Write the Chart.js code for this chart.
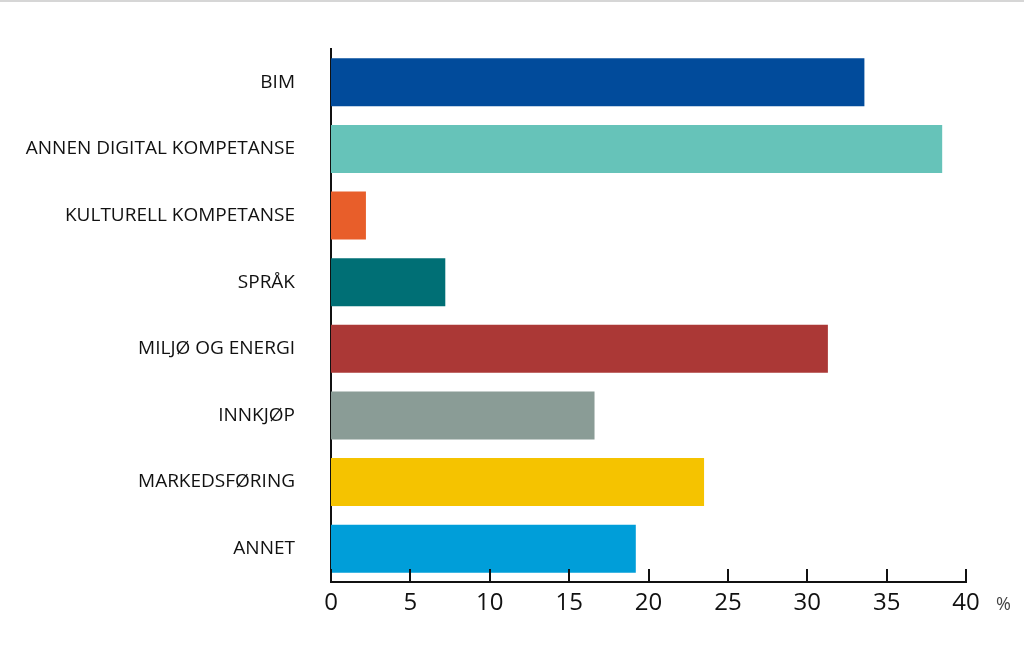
<!DOCTYPE html>
<html lang="no">
<head>
<meta charset="UTF-8">
<title>Kompetanse</title>
<style>
  html, body { margin: 0; padding: 0; background: #fff; }
  #wrap { width: 1024px; height: 645px; position: relative; }
</style>
</head>
<body>
<div id="wrap"><canvas id="chart" width="1024" height="645"></canvas></div>
<script src="https://cdn.jsdelivr.net/npm/chart.js@4/dist/chart.umd.min.js"></script>
<script>
// data
const categories = ["BIM", "ANNEN DIGITAL KOMPETANSE", "KULTURELL KOMPETANSE", "SPRÅK",
                    "MILJØ OG ENERGI", "INNKJØP", "MARKEDSFØRING", "ANNET"];
const values = [33.6, 38.5, 2.2, 7.2, 31.3, 16.6, 23.5, 19.2];
const barColors = ["#014b9b", "#66c3b9", "#e85e2a", "#006f75", "#ab3836", "#8a9c96", "#f5c300", "#009ed9"];
const unitLabel = "%";

const FONT = "'Open Sans', 'Noto Sans', sans-serif";

// top rule, upward tick marks and the % sign
const extras = {
  id: "extras",
  beforeDraw(chart) {
    const ctx = chart.ctx;
    ctx.save();
    ctx.fillStyle = "#d6d6d6";
    ctx.fillRect(0, 0, chart.width, 2);
    ctx.restore();
  },
  afterDraw(chart) {
    const ctx = chart.ctx;
    const x = chart.scales.x;
    const bottom = chart.chartArea.bottom;
    ctx.save();
    ctx.strokeStyle = "#111";
    ctx.lineWidth = 2;
    x.ticks.forEach(t => {
      const px = Math.round(x.getPixelForValue(t.value));
      ctx.beginPath();
      ctx.moveTo(px, bottom);
      ctx.lineTo(px, bottom - 13);
      ctx.stroke();
    });
    ctx.fillStyle = "#444";
    ctx.font = "18px " + FONT;
    ctx.textAlign = "left";
    ctx.textBaseline = "middle";
    ctx.fillText(unitLabel, x.right + 30, bottom + 23);
    ctx.restore();
  }
};

new Chart(document.getElementById("chart"), {
  type: "bar",
  data: {
    labels: categories,
    datasets: [{
      data: values,
      backgroundColor: barColors,
      barPercentage: 0.72,
      categoryPercentage: 1
    }]
  },
  options: {
    indexAxis: "y",
    responsive: false,
    animation: false,
    layout: { padding: { top: 49, right: 58, left: 0, bottom: 0 } },
    plugins: { legend: { display: false }, tooltip: { enabled: false } },
    scales: {
      x: {
        min: 0, max: 40,
        ticks: { stepSize: 5, color: "#111", font: { family: FONT, size: 24 }, padding: 7 },
        grid: { display: false, drawTicks: false },
        border: { color: "#111", width: 2 },
        afterFit(s) { s.height = 63; }
      },
      y: {
        ticks: { color: "#111", font: { family: FONT, size: 19 }, padding: 36, autoSkip: false },
        grid: { display: false, drawTicks: false },
        border: { color: "#111", width: 2 },
        afterFit(s) { s.width = 331; }
      }
    }
  },
  plugins: [extras]
});
</script>
</body>
</html>
